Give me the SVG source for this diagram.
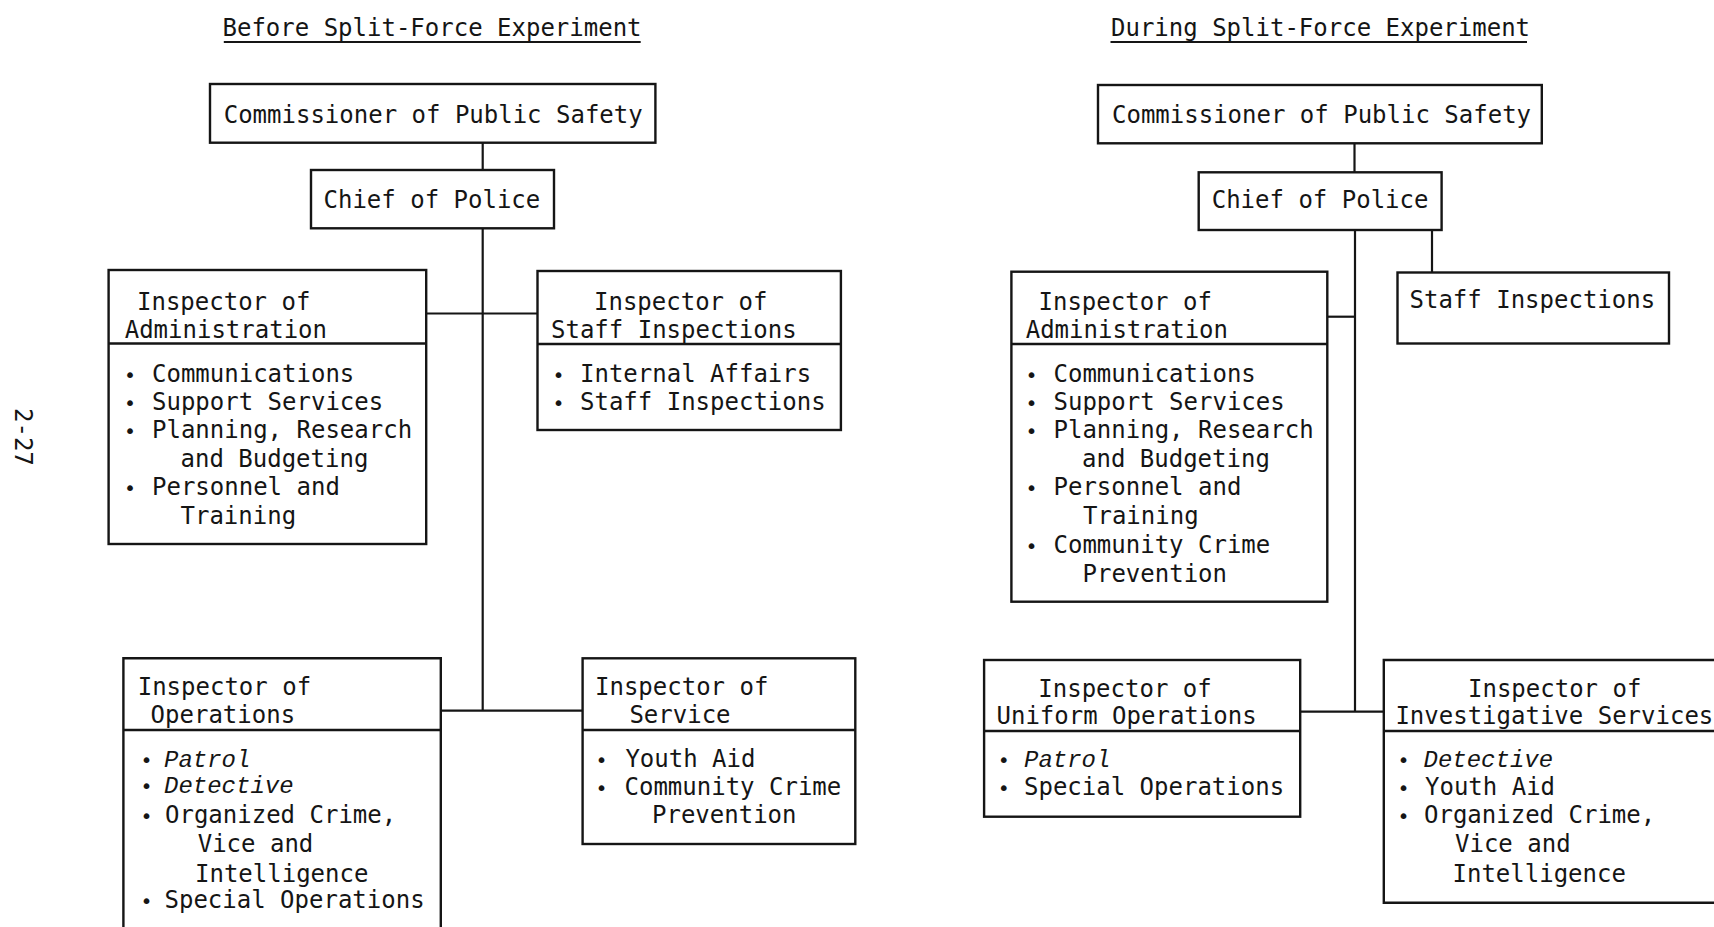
<svg xmlns="http://www.w3.org/2000/svg" width="1714" height="927" viewBox="0 0 1714 927">
  <style>
    text { font-family: "DejaVu Sans Mono", "Liberation Mono", monospace; font-size: 24px; fill: #151515; }
    .it { font-family: "Liberation Mono", "DejaVu Sans Mono", monospace; font-style: italic; }
    .bul { font-size: 20px; text-anchor: middle; }
    .box { fill: none; stroke: #151515; stroke-width: 2.4; }
    .rule { fill: none; stroke: #151515; stroke-width: 2.2; }
    .ul { stroke: #151515; stroke-width: 1.8; }
  </style>
  <rect width="1714" height="927" fill="#ffffff"/>

  <!-- page number, printed sideways -->
  <text id="page-number" transform="translate(15 408) rotate(90)">2-27</text>

  <!-- chart headings -->
  <g id="heading-before">
    <text x="222.5" y="36">Before Split-Force Experiment</text>
    <line class="ul" x1="223.8" y1="42" x2="640.7" y2="42"/>
  </g>
  <g id="heading-during">
    <text x="1111" y="36">During Split-Force Experiment</text>
    <line class="ul" x1="1110.5" y1="42" x2="1527" y2="42"/>
  </g>

  <!-- connectors -->
  <g id="connectors" class="rule">
    <path d="M482.7 142.7 V170"/>
    <path d="M482.7 228.3 V710.7"/>
    <path d="M426.2 313.5 H537.5"/>
    <path d="M440.8 710.7 H582.6"/>
    <path d="M1354.5 143.3 V172.3"/>
    <path d="M1355 230 V711.7"/>
    <path d="M1327.3 316.7 H1355"/>
    <path d="M1432 230 V272.5"/>
    <path d="M1300.2 711.7 H1383.8"/>
  </g>

  <!-- before: left chart -->
  <g id="commissioner-before">
    <rect class="box" x="210" y="84" width="445.4" height="58.7"/>
    <text x="223.7" y="122.7">Commissioner of Public Safety</text>
  </g>
  <g id="chief-before">
    <rect class="box" x="311" y="170" width="243" height="58.3"/>
    <text x="323.5" y="208.3">Chief of Police</text>
  </g>
  <g id="administration-before">
    <rect class="box" x="108.6" y="270" width="317.6" height="274"/>
    <line class="box" x1="108.6" y1="343.5" x2="426.2" y2="343.5"/>
    <text x="137" y="310">Inspector of</text>
    <text x="124.7" y="338.3">Administration</text>
    <text class="bul" x="130" y="381.7">•</text>
    <text x="152" y="381.7">Communications</text>
    <text class="bul" x="130" y="410">•</text>
    <text x="152" y="410">Support Services</text>
    <text class="bul" x="130" y="438.3">•</text>
    <text x="152" y="438.3">Planning, Research</text>
    <text x="180.5" y="466.7">and Budgeting</text>
    <text class="bul" x="130" y="495">•</text>
    <text x="152" y="495">Personnel and</text>
    <text x="180.5" y="524">Training</text>
  </g>
  <g id="staff-inspections-before">
    <rect class="box" x="537.5" y="271" width="303.4" height="159"/>
    <line class="box" x1="537.5" y1="344" x2="840.9" y2="344"/>
    <text x="594" y="310">Inspector of</text>
    <text x="551" y="338.3">Staff Inspections</text>
    <text class="bul" x="558.4" y="381.7">•</text>
    <text x="580" y="381.7">Internal Affairs</text>
    <text class="bul" x="558.4" y="410">•</text>
    <text x="580" y="410">Staff Inspections</text>
  </g>
  <g id="operations-before">
    <path class="box" d="M123.4 940 V658.3 H440.8 V940"/>
    <line class="box" x1="123.4" y1="730" x2="440.8" y2="730"/>
    <text x="137.7" y="695">Inspector of</text>
    <text x="150.6" y="722.7">Operations</text>
    <text class="bul" x="146.4" y="766.7">•</text>
    <text class="it" x="164" y="766.7">Patrol</text>
    <text class="bul" x="146.4" y="793.3">•</text>
    <text class="it" x="164" y="793.3">Detective</text>
    <text class="bul" x="146.4" y="822.7">•</text>
    <text x="165" y="822.7">Organized Crime,</text>
    <text x="197.7" y="851.7">Vice and</text>
    <text x="195" y="881.7">Intelligence</text>
    <text class="bul" x="146.4" y="908.3">•</text>
    <text x="164.5" y="908.3">Special Operations</text>
  </g>
  <g id="service-before">
    <rect class="box" x="582.6" y="658.3" width="272.7" height="185.7"/>
    <line class="box" x1="582.6" y1="730" x2="855.3" y2="730"/>
    <text x="595" y="695">Inspector of</text>
    <text x="629.4" y="722.7">Service</text>
    <text class="bul" x="601.5" y="766.7">•</text>
    <text x="625.4" y="766.7">Youth Aid</text>
    <text class="bul" x="601.5" y="795">•</text>
    <text x="624.5" y="795">Community Crime</text>
    <text x="652" y="822.7">Prevention</text>
  </g>

  <!-- during: right chart -->
  <g id="commissioner-during">
    <rect class="box" x="1098" y="85" width="443.8" height="58.3"/>
    <text x="1112" y="122.7">Commissioner of Public Safety</text>
  </g>
  <g id="chief-during">
    <rect class="box" x="1198.7" y="172.3" width="242.9" height="57.7"/>
    <text x="1211.7" y="208.3">Chief of Police</text>
  </g>
  <g id="administration-during">
    <rect class="box" x="1011.4" y="271.7" width="315.9" height="330"/>
    <line class="box" x1="1011.4" y1="344" x2="1327.3" y2="344"/>
    <text x="1038.5" y="310">Inspector of</text>
    <text x="1025.7" y="338.3">Administration</text>
    <text class="bul" x="1031.5" y="381.7">•</text>
    <text x="1053.5" y="381.7">Communications</text>
    <text class="bul" x="1031.5" y="410">•</text>
    <text x="1053.5" y="410">Support Services</text>
    <text class="bul" x="1031.5" y="438.3">•</text>
    <text x="1053.5" y="438.3">Planning, Research</text>
    <text x="1082" y="466.7">and Budgeting</text>
    <text class="bul" x="1031.5" y="495">•</text>
    <text x="1053.5" y="495">Personnel and</text>
    <text x="1083" y="524">Training</text>
    <text class="bul" x="1031.5" y="553.3">•</text>
    <text x="1053.5" y="553.3">Community Crime</text>
    <text x="1082.5" y="581.7">Prevention</text>
  </g>
  <g id="staff-inspections-during">
    <rect class="box" x="1397.5" y="272.5" width="271.5" height="71"/>
    <text x="1409.5" y="308.3">Staff Inspections</text>
  </g>
  <g id="uniform-operations-during">
    <rect class="box" x="984.1" y="660" width="316.1" height="156.7"/>
    <line class="box" x1="984.1" y1="731" x2="1300.2" y2="731"/>
    <text x="1038.3" y="696.7">Inspector of</text>
    <text x="996.5" y="724">Uniform Operations</text>
    <text class="bul" x="1003.8" y="766.7">•</text>
    <text class="it" x="1024" y="766.7">Patrol</text>
    <text class="bul" x="1003.8" y="795">•</text>
    <text x="1024" y="795">Special Operations</text>
  </g>
  <g id="investigative-services-during">
    <path class="box" d="M1720 660 H1383.8 V902.7 H1720"/>
    <line class="box" x1="1383.8" y1="731" x2="1720" y2="731"/>
    <text x="1468" y="696.7">Inspector of</text>
    <text x="1395.4" y="724">Investigative Services</text>
    <text class="bul" x="1403.5" y="766.7">•</text>
    <text class="it" x="1423.5" y="766.7">Detective</text>
    <text class="bul" x="1403.5" y="795">•</text>
    <text x="1425" y="795">Youth Aid</text>
    <text class="bul" x="1403.5" y="822.7">•</text>
    <text x="1424" y="822.7">Organized Crime,</text>
    <text x="1455" y="851.7">Vice and</text>
    <text x="1452.5" y="881.7">Intelligence</text>
  </g>
</svg>
